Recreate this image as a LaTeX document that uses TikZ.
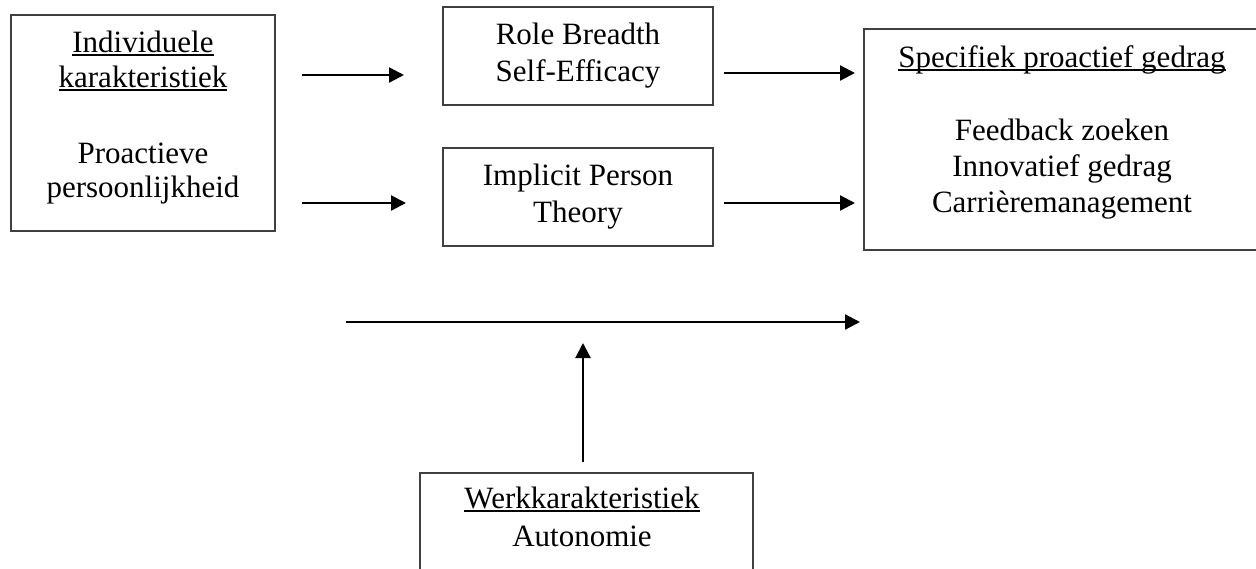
\documentclass[tikz,border=0pt]{standalone}
\usepackage{fontspec}
\setmainfont{Liberation Serif}
\usetikzlibrary{arrows.meta}
\newcommand\myul[1]{\setbox0\hbox{#1}\rlap{\rule[-3.5pt]{\wd0}{1.6pt}}\box0}
\tikzset{
  boxnode/.style={draw=black!75, line width=1.3pt, rectangle, inner sep=0pt},
  txt/.style={anchor=base, inner sep=0pt, font=\fontsize{31pt}{36pt}\selectfont},
  arr/.style={line width=2.2pt, -{Triangle[length=15pt,width=15pt]}}
}
\begin{document}
\begin{tikzpicture}[x=1pt,y=-1pt]
\useasboundingbox (0,0) rectangle (1256,568);
\clip (0,0) rectangle (1256,568);
% boxes
\node[boxnode, minimum width=264pt, minimum height=216pt] (ind) at (143,123) {};
\node[boxnode, minimum width=270pt, minimum height=98pt] (rbse) at (578,56) {};
\node[boxnode, minimum width=270pt, minimum height=98pt] (ipt) at (578,197) {};
\node[boxnode, minimum width=400pt, minimum height=221pt] (spg) at (1064,139.5) {};
\node[boxnode, minimum width=333pt, minimum height=110pt] (werk) at (586.5,528) {};
% texts
\node[txt] (t1) at (143,52) {\myul{Individuele}};
\node[txt] (t2) at (143,87) {\myul{karakteristiek}};
\node[txt] (t3) at (143,163) {Proactieve};
\node[txt] (t4) at (143,197) {persoonlijkheid};
\node[txt] (t5) at (578,44) {Role Breadth};
\node[txt] (t6) at (578,81) {Self-Efficacy};
\node[txt] (t7) at (578,185) {Implicit Person};
\node[txt] (t8) at (578,222) {Theory};
\node[txt] (t9) at (1062,67) {\myul{Specifiek proactief gedrag}};
\node[txt] (t10) at (1062,140) {Feedback zoeken};
\node[txt] (t11) at (1062,176) {Innovatief gedrag};
\node[txt] (t12) at (1062,212) {Carrièremanagement};
\node[txt] (t13) at (582,508) {\myul{Werkkarakteristiek}};
\node[txt] (t14) at (582,546) {Autonomie};
% arrow endpoints
\coordinate (a1s) at (302,75);  \coordinate (a1e) at (404,75);
\coordinate (a2s) at (302,203); \coordinate (a2e) at (406,203);
\coordinate (a3s) at (724,73);  \coordinate (a3e) at (855,73);
\coordinate (a4s) at (724,203); \coordinate (a4e) at (855,203);
\coordinate (a5s) at (346,322); \coordinate (a5e) at (860,322);
\coordinate (a6s) at (583,462); \coordinate (a6e) at (583,343);
\draw[arr] (a1s) -- (a1e);
\draw[arr] (a2s) -- (a2e);
\draw[arr] (a3s) -- (a3e);
\draw[arr] (a4s) -- (a4e);
\draw[arr] (a5s) -- (a5e);
\draw[arr] (a6s) -- (a6e);
\end{tikzpicture}
\end{document}
